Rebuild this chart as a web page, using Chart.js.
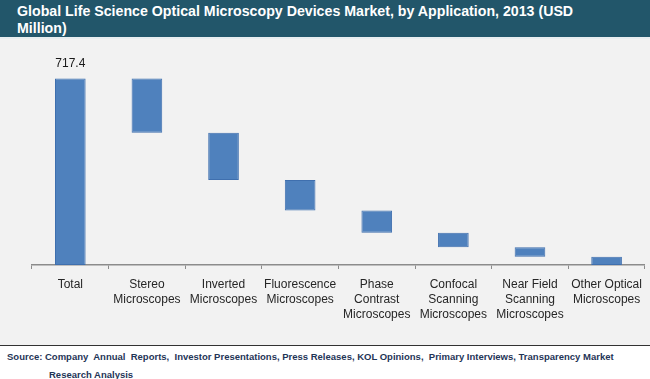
<!DOCTYPE html>
<html>
<head>
<meta charset="utf-8">
<script src="https://cdn.jsdelivr.net/npm/chart.js@4/dist/chart.umd.min.js"></script>
<style>
  html, body { margin:0; padding:0; background:#ffffff; }
  #wrap { position:relative; width:650px; height:379px; overflow:hidden; font-family:"Liberation Sans", Arial, sans-serif; }
  #titlebar { position:absolute; left:0; top:0; width:650px; height:37px; background:#22566a; }
  #titleline { position:absolute; left:0; top:37px; width:650px; height:2px; background:#e8eef0; }
  #title { position:absolute; left:17px; top:3px; color:#ffffff; font-weight:bold; font-size:14.2px; line-height:16.5px; width:630px; }
  #plotbg { position:absolute; left:0; top:39px; width:650px; height:307px; background:#f2f2f2; }
  #sep { position:absolute; left:0; top:345px; width:650px; height:1px; background:#333333; }
  #source { position:absolute; left:7px; top:348px; color:#1f3557; font-weight:bold; font-size:9.5px; line-height:17.5px; width:643px; white-space:nowrap; }
  #source .l2 { padding-left:42px; }
  #c { position:absolute; left:0; top:0; }
</style>
</head>
<body>
<div id="wrap">
  <div id="titlebar"></div>
  <div id="titleline"></div>
  <div id="title">Global Life Science Optical Microscopy Devices Market, by Application, 2013 (USD<br>Million)</div>
  <div id="plotbg"></div>
  <div id="sep"></div>
  <div id="source">Source: Company&nbsp; Annual&nbsp; Reports,&nbsp; Investor Presentations, Press Releases, KOL Opinions,&nbsp; Primary Interviews, Transparency Market<br><span class="l2">Research Analysis</span></div>
  <canvas id="c" width="650" height="379"></canvas>
</div>
<script>
// ---- data ----
const categories = [
  ["Total"],
  ["Stereo", "Microscopes"],
  ["Inverted", "Microscopes"],
  ["Fluorescence", "Microscopes"],
  ["Phase", "Contrast", "Microscopes"],
  ["Confocal", "Scanning", "Microscopes"],
  ["Near Field", "Scanning", "Microscopes"],
  ["Other Optical", "Microscopes"]
];
const totalValue = 717.4;
const segmentValues = [208.5, 181.6, 117.5, 86.2, 55.3, 36.3, 32.0];
const totalLabel = "717.4";
const yMax = 800;

// build waterfall ranges
const ranges = [[0, totalValue]];
let running = totalValue;
for (const v of segmentValues) {
  const low = Math.max(0, +(running - v).toFixed(2));
  ranges.push([low, running]);
  running = low;
}

const labelPlugin = {
  id: 'totalLabel',
  afterDatasetsDraw(chart) {
    const meta = chart.getDatasetMeta(0);
    const bar = meta.data[0];
    const ctx = chart.ctx;
    ctx.save();
    ctx.font = '12px "Liberation Sans", Arial, sans-serif';
    ctx.fillStyle = '#1a1a1a';
    ctx.textAlign = 'center';
    ctx.textBaseline = 'bottom';
    ctx.fillText(totalLabel, bar.x, bar.y - 9);
    ctx.restore();
  }
};

new Chart(document.getElementById('c'), {
  type: 'bar',
  data: {
    labels: categories,
    datasets: [{
      data: ranges,
      backgroundColor: '#4f81bd',
      borderColor: '#3f6fae',
      borderWidth: 1,
      borderSkipped: false,
      barPercentage: 0.4,
      categoryPercentage: 1.0
    }]
  },
  options: {
    responsive: false,
    animation: false,
    devicePixelRatio: 1,
    layout: { padding: { left: 32, right: 1, top: 57, bottom: 49 } },
    plugins: { legend: { display: false }, tooltip: { enabled: false }, title: { display: false } },
    scales: {
      y: { display: false, min: 0, max: yMax },
      x: {
        offset: true,
        border: { display: true, color: '#8c8c8c', width: 1.5 },
        grid: { display: true, offset: true, drawOnChartArea: false, drawTicks: true, tickLength: 4, color: '#8c8c8c', lineWidth: 1 },
        ticks: {
          color: '#262626',
          font: { family: '"Liberation Sans", Arial, sans-serif', size: 12, lineHeight: 1.25 },
          padding: 8,
          maxRotation: 0,
          autoSkip: false
        }
      }
    }
  },
  plugins: [labelPlugin]
});
</script>
</body>
</html>
